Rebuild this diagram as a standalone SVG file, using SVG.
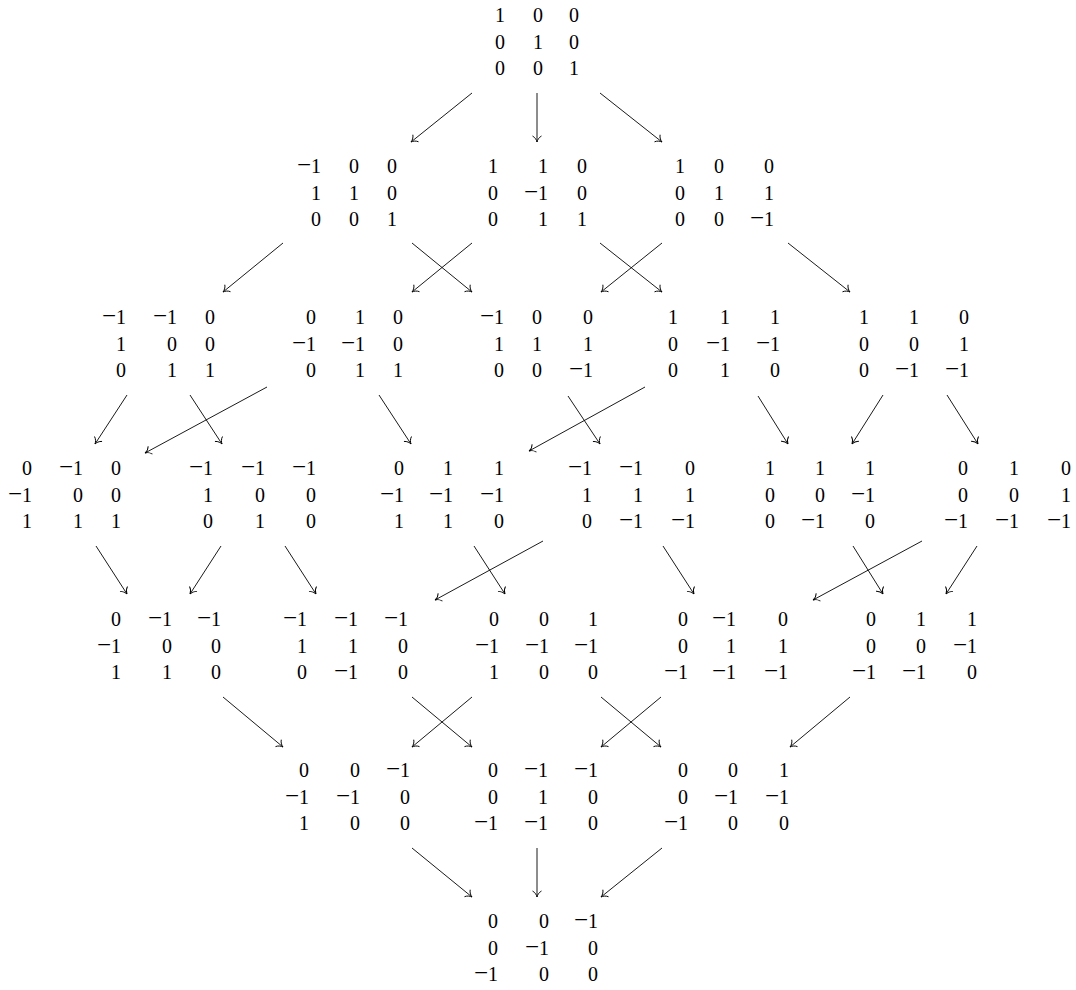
<svg xmlns="http://www.w3.org/2000/svg" width="1076" height="990" viewBox="0 0 1076 990">
<style>
text{font-family:"Liberation Serif","Times New Roman",serif;font-size:20px;text-anchor:end;fill:#000}
.n{font-size:25px}
#edges line{stroke:#000;stroke-width:0.9;fill:none;marker-end:url(#a)}
</style>
<defs>
<marker id="a" markerUnits="userSpaceOnUse" orient="auto" markerWidth="10" markerHeight="12" viewBox="-8 -6 10 12" refX="0" refY="0" overflow="visible">
<path d="M-6,-4.5 C-4.6,-1.8 -1.8,-0.4 0,0 C-1.8,0.4 -4.6,1.8 -6,4.5" fill="none" stroke="#000" stroke-width="0.9"/>
</marker>
</defs>
<rect width="1076" height="990" fill="#fff"/>
<g id="edges">
<line x1="472" y1="93" x2="411" y2="142"/>
<line x1="537" y1="93" x2="537" y2="142"/>
<line x1="600" y1="93" x2="662" y2="142"/>
<line x1="283" y1="243" x2="223" y2="292"/>
<line x1="412" y1="243" x2="472" y2="292"/>
<line x1="472" y1="243" x2="412" y2="292"/>
<line x1="600" y1="243" x2="662" y2="292"/>
<line x1="662" y1="243" x2="601" y2="292"/>
<line x1="788" y1="243" x2="850" y2="292"/>
<line x1="127" y1="395" x2="95" y2="444"/>
<line x1="190" y1="395" x2="222" y2="444"/>
<line x1="267" y1="387" x2="145" y2="453"/>
<line x1="379" y1="395" x2="411" y2="444"/>
<line x1="568" y1="396" x2="600" y2="444"/>
<line x1="645" y1="387" x2="529" y2="451"/>
<line x1="758" y1="396" x2="788" y2="444"/>
<line x1="883" y1="395" x2="852" y2="444"/>
<line x1="947" y1="395" x2="978" y2="444"/>
<line x1="96" y1="546" x2="127" y2="594"/>
<line x1="221" y1="546" x2="190" y2="594"/>
<line x1="285" y1="546" x2="316" y2="594"/>
<line x1="474" y1="546" x2="505" y2="594"/>
<line x1="543" y1="541" x2="435" y2="600"/>
<line x1="663" y1="546" x2="694" y2="594"/>
<line x1="853" y1="546" x2="883" y2="594"/>
<line x1="922" y1="541" x2="813" y2="600"/>
<line x1="977" y1="546" x2="946" y2="594"/>
<line x1="223" y1="697" x2="283" y2="747"/>
<line x1="412" y1="697" x2="472" y2="747"/>
<line x1="472" y1="697" x2="412" y2="747"/>
<line x1="601" y1="697" x2="661" y2="747"/>
<line x1="661" y1="697" x2="601" y2="747"/>
<line x1="850" y1="697" x2="790" y2="747"/>
<line x1="412" y1="848" x2="472" y2="897"/>
<line x1="537" y1="848" x2="537" y2="897"/>
<line x1="662" y1="848" x2="601" y2="897"/>
</g>
<g id="L0">
<text x="505" y="22">1</text><text x="543" y="22">0</text><text x="579" y="22">0</text>
<text x="505" y="48.5">0</text><text x="543" y="48.5">1</text><text x="579" y="48.5">0</text>
<text x="505" y="75">0</text><text x="543" y="75">0</text><text x="579" y="75">1</text>
</g>
<g id="L1a">
<text x="321" y="173"><tspan class="n">−</tspan>1</text><text x="359" y="173">0</text><text x="397" y="173">0</text>
<text x="321" y="199.5">1</text><text x="359" y="199.5">1</text><text x="397" y="199.5">0</text>
<text x="321" y="226">0</text><text x="359" y="226">0</text><text x="397" y="226">1</text>
</g>
<g id="L1b">
<text x="498" y="173">1</text><text x="548" y="173">1</text><text x="587" y="173">0</text>
<text x="498" y="199.5">0</text><text x="548" y="199.5"><tspan class="n">−</tspan>1</text><text x="587" y="199.5">0</text>
<text x="498" y="226">0</text><text x="548" y="226">1</text><text x="587" y="226">1</text>
</g>
<g id="L1c">
<text x="685" y="173">1</text><text x="724" y="173">0</text><text x="774" y="173">0</text>
<text x="685" y="199.5">0</text><text x="724" y="199.5">1</text><text x="774" y="199.5">1</text>
<text x="685" y="226">0</text><text x="724" y="226">0</text><text x="774" y="226"><tspan class="n">−</tspan>1</text>
</g>
<g id="L2a">
<text x="126" y="324"><tspan class="n">−</tspan>1</text><text x="177" y="324"><tspan class="n">−</tspan>1</text><text x="215" y="324">0</text>
<text x="126" y="350.5">1</text><text x="177" y="350.5">0</text><text x="215" y="350.5">0</text>
<text x="126" y="377">0</text><text x="177" y="377">1</text><text x="215" y="377">1</text>
</g>
<g id="L2b">
<text x="316" y="324">0</text><text x="365" y="324">1</text><text x="403" y="324">0</text>
<text x="316" y="350.5"><tspan class="n">−</tspan>1</text><text x="365" y="350.5"><tspan class="n">−</tspan>1</text><text x="403" y="350.5">0</text>
<text x="316" y="377">0</text><text x="365" y="377">1</text><text x="403" y="377">1</text>
</g>
<g id="L2c">
<text x="504" y="324"><tspan class="n">−</tspan>1</text><text x="542" y="324">0</text><text x="593" y="324">0</text>
<text x="504" y="350.5">1</text><text x="542" y="350.5">1</text><text x="593" y="350.5">1</text>
<text x="504" y="377">0</text><text x="542" y="377">0</text><text x="593" y="377"><tspan class="n">−</tspan>1</text>
</g>
<g id="L2d">
<text x="678" y="324">1</text><text x="730" y="324">1</text><text x="780" y="324">1</text>
<text x="678" y="350.5">0</text><text x="730" y="350.5"><tspan class="n">−</tspan>1</text><text x="780" y="350.5"><tspan class="n">−</tspan>1</text>
<text x="678" y="377">0</text><text x="730" y="377">1</text><text x="780" y="377">0</text>
</g>
<g id="L2e">
<text x="869" y="324">1</text><text x="919" y="324">1</text><text x="969" y="324">0</text>
<text x="869" y="350.5">0</text><text x="919" y="350.5">0</text><text x="969" y="350.5">1</text>
<text x="869" y="377">0</text><text x="919" y="377"><tspan class="n">−</tspan>1</text><text x="969" y="377"><tspan class="n">−</tspan>1</text>
</g>
<g id="L3a">
<text x="32" y="475">0</text><text x="83" y="475"><tspan class="n">−</tspan>1</text><text x="121" y="475">0</text>
<text x="32" y="501.5"><tspan class="n">−</tspan>1</text><text x="83" y="501.5">0</text><text x="121" y="501.5">0</text>
<text x="32" y="528">1</text><text x="83" y="528">1</text><text x="121" y="528">1</text>
</g>
<g id="L3b">
<text x="213" y="475"><tspan class="n">−</tspan>1</text><text x="265" y="475"><tspan class="n">−</tspan>1</text><text x="316" y="475"><tspan class="n">−</tspan>1</text>
<text x="213" y="501.5">1</text><text x="265" y="501.5">0</text><text x="316" y="501.5">0</text>
<text x="213" y="528">0</text><text x="265" y="528">1</text><text x="316" y="528">0</text>
</g>
<g id="L3c">
<text x="404" y="475">0</text><text x="453" y="475">1</text><text x="504" y="475">1</text>
<text x="404" y="501.5"><tspan class="n">−</tspan>1</text><text x="453" y="501.5"><tspan class="n">−</tspan>1</text><text x="504" y="501.5"><tspan class="n">−</tspan>1</text>
<text x="404" y="528">1</text><text x="453" y="528">1</text><text x="504" y="528">0</text>
</g>
<g id="L3d">
<text x="592" y="475"><tspan class="n">−</tspan>1</text><text x="643" y="475"><tspan class="n">−</tspan>1</text><text x="695" y="475">0</text>
<text x="592" y="501.5">1</text><text x="643" y="501.5">1</text><text x="695" y="501.5">1</text>
<text x="592" y="528">0</text><text x="643" y="528"><tspan class="n">−</tspan>1</text><text x="695" y="528"><tspan class="n">−</tspan>1</text>
</g>
<g id="L3e">
<text x="775" y="475">1</text><text x="825" y="475">1</text><text x="875" y="475">1</text>
<text x="775" y="501.5">0</text><text x="825" y="501.5">0</text><text x="875" y="501.5"><tspan class="n">−</tspan>1</text>
<text x="775" y="528">0</text><text x="825" y="528"><tspan class="n">−</tspan>1</text><text x="875" y="528">0</text>
</g>
<g id="L3f">
<text x="968" y="475">0</text><text x="1019" y="475">1</text><text x="1071" y="475">0</text>
<text x="968" y="501.5">0</text><text x="1019" y="501.5">0</text><text x="1071" y="501.5">1</text>
<text x="968" y="528"><tspan class="n">−</tspan>1</text><text x="1019" y="528"><tspan class="n">−</tspan>1</text><text x="1071" y="528"><tspan class="n">−</tspan>1</text>
</g>
<g id="L4a">
<text x="121" y="626">0</text><text x="172" y="626"><tspan class="n">−</tspan>1</text><text x="221" y="626"><tspan class="n">−</tspan>1</text>
<text x="121" y="652.5"><tspan class="n">−</tspan>1</text><text x="172" y="652.5">0</text><text x="221" y="652.5">0</text>
<text x="121" y="679">1</text><text x="172" y="679">1</text><text x="221" y="679">0</text>
</g>
<g id="L4b">
<text x="307" y="626"><tspan class="n">−</tspan>1</text><text x="358" y="626"><tspan class="n">−</tspan>1</text><text x="408" y="626"><tspan class="n">−</tspan>1</text>
<text x="307" y="652.5">1</text><text x="358" y="652.5">1</text><text x="408" y="652.5">0</text>
<text x="307" y="679">0</text><text x="358" y="679"><tspan class="n">−</tspan>1</text><text x="408" y="679">0</text>
</g>
<g id="L4c">
<text x="499" y="626">0</text><text x="549" y="626">0</text><text x="598" y="626">1</text>
<text x="499" y="652.5"><tspan class="n">−</tspan>1</text><text x="549" y="652.5"><tspan class="n">−</tspan>1</text><text x="598" y="652.5"><tspan class="n">−</tspan>1</text>
<text x="499" y="679">1</text><text x="549" y="679">0</text><text x="598" y="679">0</text>
</g>
<g id="L4d">
<text x="688" y="626">0</text><text x="736" y="626"><tspan class="n">−</tspan>1</text><text x="788" y="626">0</text>
<text x="688" y="652.5">0</text><text x="736" y="652.5">1</text><text x="788" y="652.5">1</text>
<text x="688" y="679"><tspan class="n">−</tspan>1</text><text x="736" y="679"><tspan class="n">−</tspan>1</text><text x="788" y="679"><tspan class="n">−</tspan>1</text>
</g>
<g id="L4e">
<text x="876" y="626">0</text><text x="926" y="626">1</text><text x="977" y="626">1</text>
<text x="876" y="652.5">0</text><text x="926" y="652.5">0</text><text x="977" y="652.5"><tspan class="n">−</tspan>1</text>
<text x="876" y="679"><tspan class="n">−</tspan>1</text><text x="926" y="679"><tspan class="n">−</tspan>1</text><text x="977" y="679">0</text>
</g>
<g id="L5a">
<text x="309" y="777">0</text><text x="360" y="777">0</text><text x="410" y="777"><tspan class="n">−</tspan>1</text>
<text x="309" y="803.5"><tspan class="n">−</tspan>1</text><text x="360" y="803.5"><tspan class="n">−</tspan>1</text><text x="410" y="803.5">0</text>
<text x="309" y="830">1</text><text x="360" y="830">0</text><text x="410" y="830">0</text>
</g>
<g id="L5b">
<text x="498" y="777">0</text><text x="548" y="777"><tspan class="n">−</tspan>1</text><text x="598" y="777"><tspan class="n">−</tspan>1</text>
<text x="498" y="803.5">0</text><text x="548" y="803.5">1</text><text x="598" y="803.5">0</text>
<text x="498" y="830"><tspan class="n">−</tspan>1</text><text x="548" y="830"><tspan class="n">−</tspan>1</text><text x="598" y="830">0</text>
</g>
<g id="L5c">
<text x="688" y="777">0</text><text x="738" y="777">0</text><text x="789" y="777">1</text>
<text x="688" y="803.5">0</text><text x="738" y="803.5"><tspan class="n">−</tspan>1</text><text x="789" y="803.5"><tspan class="n">−</tspan>1</text>
<text x="688" y="830"><tspan class="n">−</tspan>1</text><text x="738" y="830">0</text><text x="789" y="830">0</text>
</g>
<g id="L6">
<text x="498" y="928">0</text><text x="549" y="928">0</text><text x="598" y="928"><tspan class="n">−</tspan>1</text>
<text x="498" y="954.5">0</text><text x="549" y="954.5"><tspan class="n">−</tspan>1</text><text x="598" y="954.5">0</text>
<text x="498" y="981"><tspan class="n">−</tspan>1</text><text x="549" y="981">0</text><text x="598" y="981">0</text>
</g>
</svg>
